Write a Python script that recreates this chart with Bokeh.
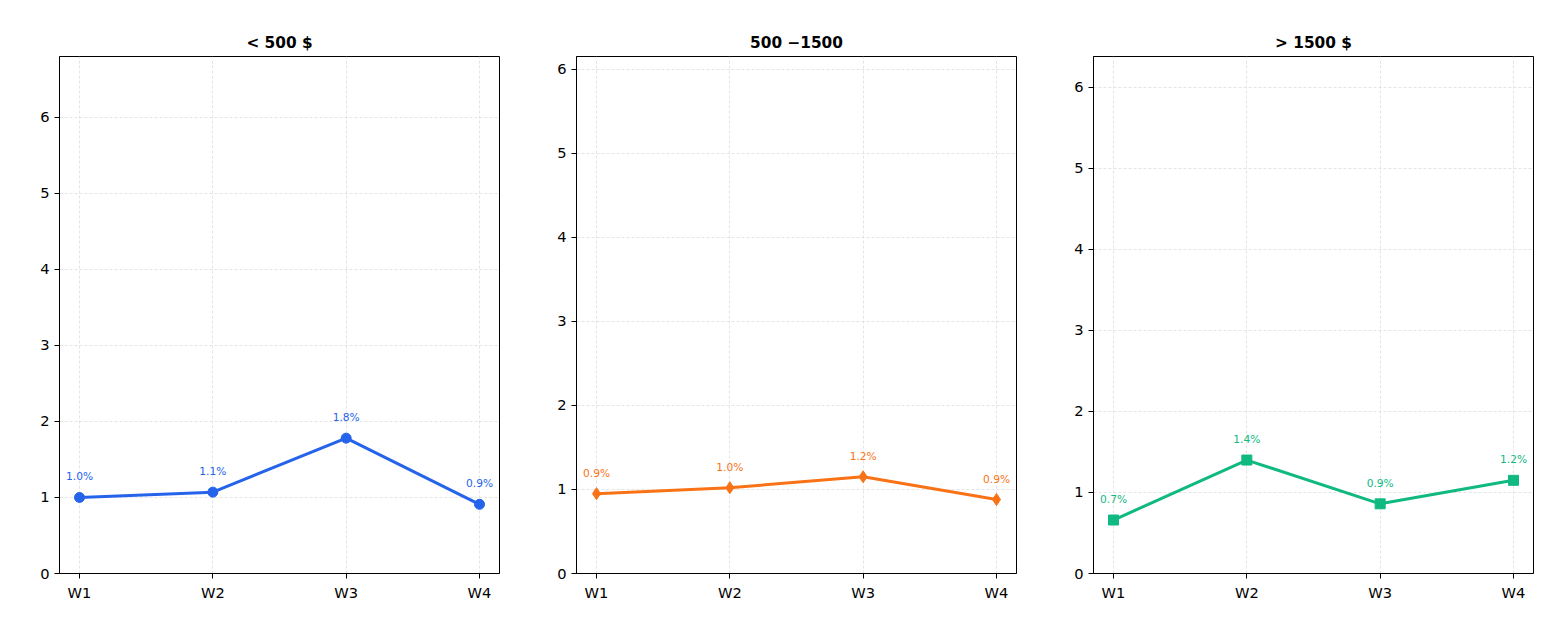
from bokeh.plotting import figure
from bokeh.layouts import row
from bokeh.models import FixedTicker, Range1d, ColumnDataSource
from bokeh.core.properties import value
from bokeh.embed import file_html
from bokeh.resources import INLINE

weeks = ["W1", "W2", "W3", "W4"]
titles = ["< 500 $", "500 \u22121500", "> 1500 $"]
low = [1.00, 1.07, 1.78, 0.91]
mid = [0.95, 1.02, 1.15, 0.88]
high = [0.66, 1.40, 0.86, 1.15]
labels_low = ["1.0%", "1.1%", "1.8%", "0.9%"]
labels_mid = ["0.9%", "1.0%", "1.2%", "0.9%"]
labels_high = ["0.7%", "1.4%", "0.9%", "1.2%"]
colors = ["#2563eb", "#f97316", "#10b981"]
markers = ["circle", "diamond", "square"]
ymax = [6.8, 6.15, 6.38]

figs = []
for i, (vals, labs) in enumerate([(low, labels_low), (mid, labels_mid), (high, labels_high)]):
    left = 59 if i == 0 else 51
    w = [525, 517, 516][i]
    p = figure(width=w, height=623, output_backend="svg", toolbar_location=None,
               min_border_left=left, min_border_right=w - left - 440, min_border_top=56, min_border_bottom=50,
               x_range=Range1d(-0.15, 3.15), y_range=Range1d(0, ymax[i]))
    p.title.text = titles[i]
    p.title.align = "center"
    p.title.text_font_size = "11.5pt"
    p.title.text_font = "DejaVu Sans"
    p.title.text_font_style = "bold"
    p.title.text_color = "black"
    xs = list(range(len(weeks)))
    src = ColumnDataSource(dict(x=xs, y=vals, t=labs))
    p.line("x", "y", source=src, line_width=3, color=colors[i])
    p.scatter("x", "y", source=src, marker=markers[i], size=10 if i != 1 else 12, color=colors[i])
    p.text("x", "y", text="t", source=src, text_color=colors[i], text_font_size="8pt",
           text_align="center", text_baseline="bottom", y_offset=-14, text_font=value("DejaVu Sans"))
    p.xaxis.ticker = FixedTicker(ticks=xs)
    p.xaxis.major_label_overrides = {j: weeks[j] for j in xs}
    p.yaxis.ticker = FixedTicker(ticks=list(range(0, 7)))
    for ax in (p.xaxis, p.yaxis):
        ax.minor_tick_line_color = None
        ax.major_label_text_font_size = "11pt"
        ax.major_label_text_font = "DejaVu Sans"
        ax.major_label_text_color = "black"
        ax.axis_line_color = "black"
        ax.major_tick_line_color = "black"
        ax.major_tick_in = 0
        ax.major_tick_out = 5
    p.outline_line_color = "black"
    p.grid.grid_line_color = "#dddddd"
    p.grid.grid_line_dash = "3 2"
    p.grid.grid_line_width = 0.8
    figs.append(p)

layout = row(*figs, spacing=0)
open("out.html", "w").write(file_html(layout, INLINE))
